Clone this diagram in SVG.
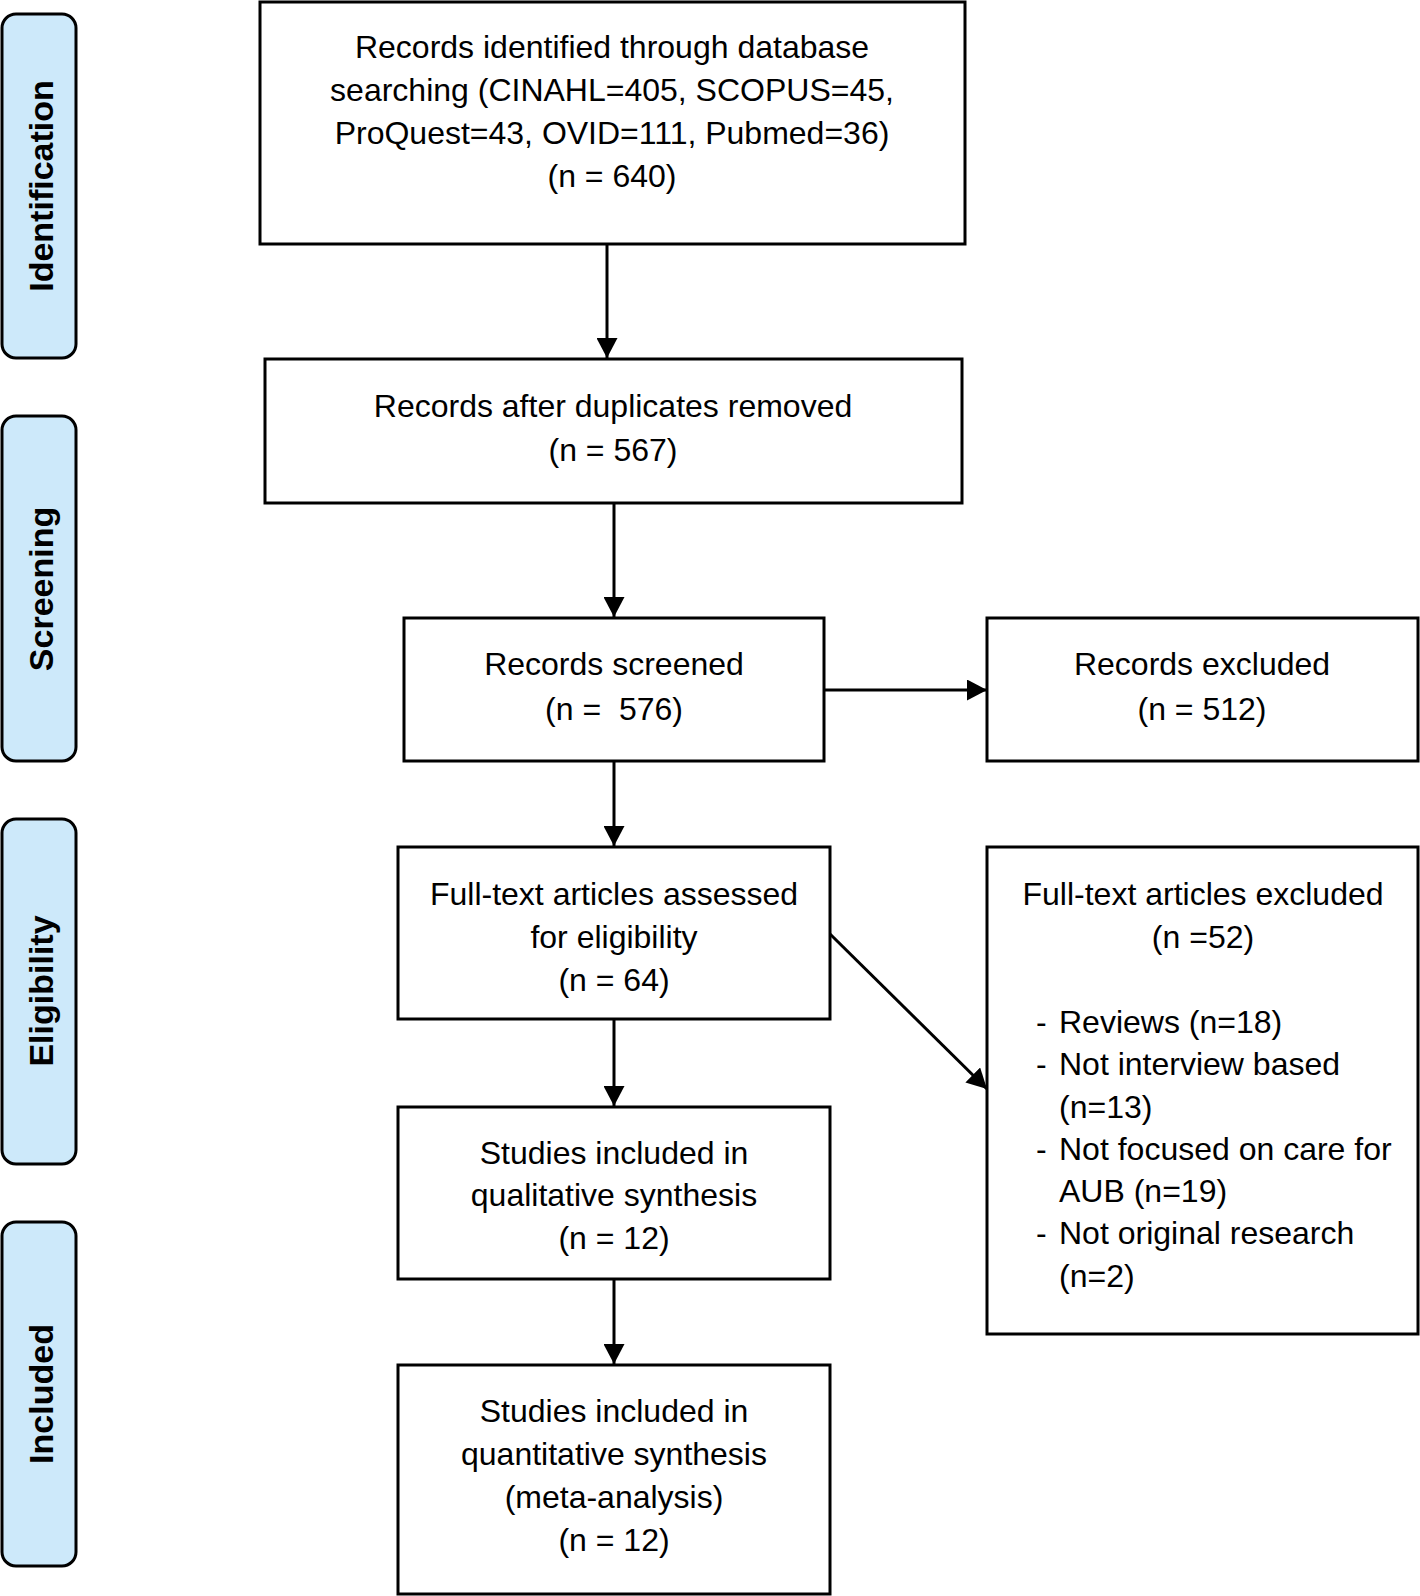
<svg xmlns="http://www.w3.org/2000/svg" width="1420" height="1596" viewBox="0 0 1420 1596">
  <style>
    .box { fill: #ffffff; stroke: #000000; stroke-width: 3; }
    .tab { fill: #cde9fa; stroke: #000000; stroke-width: 3; }
    .t { font-family: "Liberation Sans", Arial, sans-serif; font-size: 32px; fill: #000000; text-anchor: middle; }
    .tl { font-family: "Liberation Sans", Arial, sans-serif; font-size: 32px; fill: #000000; }
    .tabt { font-family: "Liberation Sans", Arial, sans-serif; font-size: 34px; font-weight: bold; fill: #000000; text-anchor: middle; }
    .conn { fill: none; stroke: #000000; stroke-width: 3; marker-end: url(#arrow); }
  </style>
  <defs>
    <marker id="arrow" markerUnits="userSpaceOnUse" markerWidth="21" markerHeight="21" refX="20" refY="10.5" orient="auto">
      <path d="M0,0 L20,10.5 L0,21 Z" fill="#000000"/>
    </marker>
  </defs>
  <rect width="1420" height="1596" fill="#ffffff"/>

  <g id="tab-identification">
    <rect class="tab" x="2" y="14" width="74" height="344" rx="14" ry="14"/>
    <text class="tabt" transform="translate(53,186) rotate(-90)">Identification</text>
  </g>
  <g id="tab-screening">
    <rect class="tab" x="2" y="416" width="74" height="345" rx="14" ry="14"/>
    <text class="tabt" transform="translate(53,589) rotate(-90)">Screening</text>
  </g>
  <g id="tab-eligibility">
    <rect class="tab" x="2" y="819" width="74" height="345" rx="14" ry="14"/>
    <text class="tabt" transform="translate(53,991) rotate(-90)">Eligibility</text>
  </g>
  <g id="tab-included">
    <rect class="tab" x="2" y="1222" width="74" height="344" rx="14" ry="14"/>
    <text class="tabt" transform="translate(53,1394) rotate(-90)">Included</text>
  </g>

  <g id="connectors">
    <line class="conn" x1="607" y1="244" x2="607" y2="358"/>
    <line class="conn" x1="614" y1="503" x2="614" y2="617"/>
    <line class="conn" x1="824" y1="690" x2="987" y2="690"/>
    <line class="conn" x1="614" y1="761" x2="614" y2="846"/>
    <line class="conn" x1="830" y1="934" x2="987" y2="1089"/>
    <line class="conn" x1="614" y1="1019" x2="614" y2="1106"/>
    <line class="conn" x1="614" y1="1279" x2="614" y2="1364"/>
  </g>

  <g id="node-identified">
    <rect class="box" x="260" y="2" width="705" height="242"/>
    <text class="t" x="612" y="58">Records identified through database</text>
    <text class="t" x="612" y="101">searching (CINAHL=405, SCOPUS=45,</text>
    <text class="t" x="612" y="144">ProQuest=43, OVID=111, Pubmed=36)</text>
    <text class="t" x="612" y="187">(n = 640)</text>
  </g>

  <g id="node-duplicates">
    <rect class="box" x="265" y="359" width="697" height="144"/>
    <text class="t" x="613" y="417">Records after duplicates removed</text>
    <text class="t" x="613" y="461">(n = 567)</text>
  </g>

  <g id="node-screened">
    <rect class="box" x="404" y="618" width="420" height="143"/>
    <text class="t" x="614" y="675">Records screened</text>
    <text class="t" x="614" y="720" xml:space="preserve">(n =  576)</text>
  </g>

  <g id="node-records-excluded">
    <rect class="box" x="987" y="618" width="431" height="143"/>
    <text class="t" x="1202" y="675">Records excluded</text>
    <text class="t" x="1202" y="720">(n = 512)</text>
  </g>

  <g id="node-fulltext-assessed">
    <rect class="box" x="398" y="847" width="432" height="172"/>
    <text class="t" x="614" y="905">Full-text articles assessed</text>
    <text class="t" x="614" y="948">for eligibility</text>
    <text class="t" x="614" y="991">(n = 64)</text>
  </g>

  <g id="node-fulltext-excluded">
    <rect class="box" x="987" y="847" width="431" height="487"/>
    <text class="t" x="1203" y="905">Full-text articles excluded</text>
    <text class="t" x="1203" y="948">(n =52)</text>
    <text class="tl" x="1036" y="1033">-</text>
    <text class="tl" x="1059" y="1033">Reviews (n=18)</text>
    <text class="tl" x="1036" y="1075">-</text>
    <text class="tl" x="1059" y="1075">Not interview based</text>
    <text class="tl" x="1059" y="1118">(n=13)</text>
    <text class="tl" x="1036" y="1160">-</text>
    <text class="tl" x="1059" y="1160">Not focused on care for</text>
    <text class="tl" x="1059" y="1202">AUB (n=19)</text>
    <text class="tl" x="1036" y="1244">-</text>
    <text class="tl" x="1059" y="1244">Not original research</text>
    <text class="tl" x="1059" y="1287">(n=2)</text>
  </g>

  <g id="node-qualitative">
    <rect class="box" x="398" y="1107" width="432" height="172"/>
    <text class="t" x="614" y="1164">Studies included in</text>
    <text class="t" x="614" y="1206">qualitative synthesis</text>
    <text class="t" x="614" y="1249">(n = 12)</text>
  </g>

  <g id="node-quantitative">
    <rect class="box" x="398" y="1365" width="432" height="229"/>
    <text class="t" x="614" y="1422">Studies included in</text>
    <text class="t" x="614" y="1465">quantitative synthesis</text>
    <text class="t" x="614" y="1508">(meta-analysis)</text>
    <text class="t" x="614" y="1551">(n = 12)</text>
  </g>
</svg>
